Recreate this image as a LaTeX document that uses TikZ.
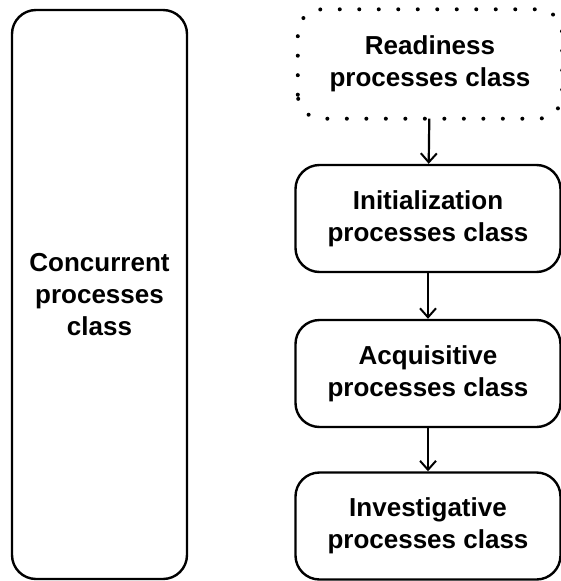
\documentclass[tikz,border=0pt]{standalone}
\usepackage{fontspec}
\setmainfont{Liberation Sans}
\usetikzlibrary{arrows.meta}
\begin{document}
\begin{tikzpicture}[x=1pt,y=-1pt,
  box/.style={draw=black, line width=2.4pt, rounded corners=24pt, minimum width=265pt, minimum height=107pt, align=center, inner sep=0pt, font=\fontsize{26}{32}\selectfont\bfseries},
  dotbox/.style={box, draw=none},
  conn/.style={line width=2.2pt, -{Straight Barb[length=9pt,width=16pt,line width=2pt]}}
]
\useasboundingbox (0,0) rectangle (561,581);
\fill[white] (0,0) rectangle (561,581);
\node[box, minimum width=175pt, minimum height=569pt] (conc) at (99.5,294.5) {Concurrent\\processes\\class};
\node[dotbox, minimum width=262pt] (ready) at (430,64) {Readiness\\processes class};
\draw[line width=4pt, line cap=round, dash pattern=on 0pt off 19.5pt, rounded corners=24pt] (ready.south west) rectangle (ready.north east);
\node[box] (init) at (428,218.5) {Initialization\\processes class};
\node[box] (acq) at (428,373.5) {Acquisitive\\processes class};
\node[box] (inv) at (428,526) {Investigative\\processes class};
\draw[conn] (ready) -- (init);
\draw[conn] (init) -- (acq);
\draw[conn] (acq) -- (inv);
\end{tikzpicture}
\end{document}
